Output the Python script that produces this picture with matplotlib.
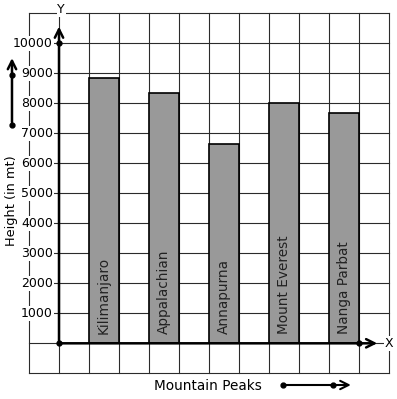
import matplotlib
matplotlib.use("Agg")
import matplotlib.pyplot as plt

# data
peaks = ["Kilimanjaro", "Appalachian", "Annapurna", "Mount Everest", "Nanga Parbat"]
heights = [8830, 8330, 6630, 8000, 7670]
positions = [1.5, 3.5, 5.5, 7.5, 9.5]
y_ticks = [1000, 2000, 3000, 4000, 5000, 6000, 7000, 8000, 9000, 10000]

# figure maps 30 px per grid cell, origin at pixel (59, 343)
fig = plt.figure(figsize=(3.97, 3.99), dpi=100)
ax = fig.add_axes([0, 0, 1, 1])
ax.set_xlim(-59 / 30, (397 - 59) / 30)
ax.set_ylim((343.3 - 399) / 0.03, 343.3 / 0.03)
ax.axis("off")

grid_col = "#2b2b2b"
# graph paper grid
for gx in range(-1, 12):
    ax.plot([gx, gx], [-1000, 11000], color=grid_col, lw=0.8, zorder=1)
for gy in range(-1000, 12000, 1000):
    ax.plot([-1, 11], [gy, gy], color=grid_col, lw=0.8, zorder=1)

# bars
ax.bar(positions, heights, width=1, color="#999999", edgecolor="black", linewidth=1.2, zorder=3)
for p, name in zip(positions, peaks):
    ax.text(p, 320, name, rotation=90, ha="center", va="bottom", fontsize=9.8, color="#222222", zorder=4)

# axes with arrows
ax.annotate("", xy=(0, 10650), xytext=(0, 0),
            arrowprops=dict(arrowstyle="->", lw=1.8, color="black", mutation_scale=15), zorder=5)
ax.annotate("", xy=(10.7, 0), xytext=(0, 0),
            arrowprops=dict(arrowstyle="->", lw=1.8, color="black", mutation_scale=15), zorder=5)
ax.plot([0, 0, 10], [0, 10000, 0], "o", color="black", ms=3.5, zorder=6)

# y tick labels
for t in y_ticks:
    ax.text(-0.2, t, str(t), ha="right", va="center", fontsize=9, zorder=4,
            bbox=dict(facecolor="white", edgecolor="none", pad=0.5))

ax.text(0.07, 11120, "Y", ha="center", va="center", fontsize=9, zorder=4,
        bbox=dict(facecolor="white", edgecolor="none", pad=0.5))
ax.text(11.0, 0, "X", ha="center", va="center", fontsize=9, zorder=4,
        bbox=dict(facecolor="white", edgecolor="none", pad=0.5))

# axis titles
ax.text(-1.567, 4750, "Height (in mt)", rotation=90, ha="center", va="center", fontsize=9.3)
ax.text(4.98, -1410, "Mountain Peaks", ha="center", va="center", fontsize=9.8)

# small decorative arrows
ax.annotate("", xy=(-1.567, 9600), xytext=(-1.567, 7277),
            arrowprops=dict(arrowstyle="->", lw=1.8, color="black", mutation_scale=15))
ax.plot([-1.567, -1.567], [7277, 8943], "o", color="black", ms=3.5)
ax.annotate("", xy=(9.82, -1390), xytext=(7.467, -1390),
            arrowprops=dict(arrowstyle="->", lw=1.5, color="black", mutation_scale=15))
ax.plot([7.467, 9.133], [-1390, -1390], "o", color="black", ms=3.5)

fig.savefig("out.png", dpi=100)
